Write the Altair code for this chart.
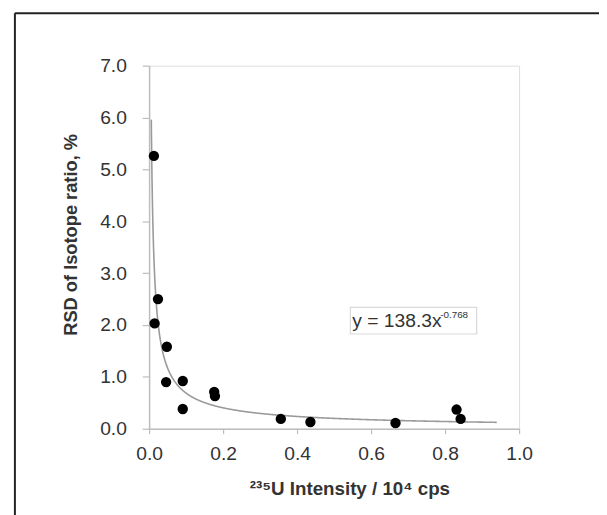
import altair as alt
import pandas as pd

# measured points: 235U intensity (10^4 cps) and RSD of isotope ratio (%)
intensity = [0.013, 0.024, 0.015, 0.048, 0.046, 0.091, 0.091, 0.176, 0.178,
             0.356, 0.436, 0.666, 0.831, 0.842]
rsd = [5.26, 2.50, 2.03, 1.58, 0.90, 0.92, 0.38, 0.71, 0.63,
       0.19, 0.13, 0.11, 0.37, 0.19]

# power-law fit printed on the chart: y = 138.3 x^-0.768 (x in cps)
fit_coef = 138.3
fit_exp = -0.768
fit_start, fit_end = 0.006, 0.94

x_ticks = [0.0, 0.1, 0.2, 0.3, 0.4, 0.5, 0.6, 0.7, 0.8, 0.9, 1.0]
y_ticks = [0, 1, 2, 3, 4, 5, 6, 7]

FONT = "Liberation Sans"
GREY = "#bdbdbd"
TXT = "#333333"

df = pd.DataFrame({"x": intensity, "y": rsd})

xscale = alt.Scale(domain=[0, 1], nice=False, zero=False)
yscale = alt.Scale(domain=[0, 7], nice=False)

xaxis = alt.Axis(
    values=x_ticks,
    labelExpr="round(datum.value*10) % 2 == 0 ? format(datum.value, '.1f') : ''",
    labelFlush=False, labelOverlap=False,
    grid=False, domainColor=GREY, domainWidth=1.5, tickColor=GREY, tickSize=5,
    tickWidth=1.2, labelFont=FONT, labelFontSize=19.5, labelColor=TXT,
    labelPadding=11, title="²³⁵U Intensity / 10⁴ cps", titleFont=FONT,
    titleFontSize=19, titleFontWeight="bold", titleColor=TXT,
    titleX=203, titleY=61, titleBaseline="middle", titleAlign="center",
)
yaxis = alt.Axis(
    values=y_ticks, format=".1f", grid=False, domainColor=GREY, domainWidth=1.5,
    labelFlush=False, labelOverlap=False,
    tickColor=GREY, tickSize=7, tickWidth=1.2, labelFont=FONT, labelFontSize=19.5,
    labelColor=TXT, labelPadding=16, title="RSD of Isotope ratio, %",
    titleFont=FONT, titleFontSize=18.5, titleFontWeight="bold", titleColor=TXT,
    titleX=-80, titleY=171, titleAngle=270, titleBaseline="middle",
    titleAlign="center",
)

curve = alt.Chart(alt.sequence(fit_start, fit_end, 0.0005, as_="x")).transform_calculate(
    y=f"{fit_coef}*pow(datum.x*10000, {fit_exp})"
).mark_line(color="#9a9a9a", strokeWidth=1.6).encode(
    x=alt.X("x:Q", scale=xscale, axis=xaxis),
    y=alt.Y("y:Q", scale=yscale, axis=yaxis),
)

points = alt.Chart(df).mark_circle(color="black", opacity=1, size=110).encode(
    x=alt.X("x:Q", scale=xscale),
    y=alt.Y("y:Q", scale=yscale),
)

one = pd.DataFrame({"a": [0]})

box = alt.Chart(one).mark_rect(fill="white", stroke="#d9d9d9", strokeWidth=1.2).encode(
    x=alt.value(204), x2=alt.value(332), y=alt.value(245), y2=alt.value(272)
)
eq_main = alt.Chart(one).mark_text(
    text="y = 138.3x", font=FONT, fontSize=19.5, color=TXT, align="left",
    baseline="alphabetic",
).encode(x=alt.value(206), y=alt.value(265))
eq_sup = alt.Chart(one).mark_text(
    text="-0.768", font=FONT, fontSize=10, color=TXT, align="left",
    baseline="alphabetic",
).encode(x=alt.value(295), y=alt.value(256))

border_top = alt.Chart(one).mark_rule(color="#222222", strokeWidth=2).encode(
    x=alt.value(-136), x2=alt.value(460), y=alt.value(-53)
)
border_left = alt.Chart(one).mark_rule(color="#222222", strokeWidth=2).encode(
    x=alt.value(-136), y=alt.value(-53), y2=alt.value(460)
)

chart = alt.layer(
    border_top, border_left, curve, points, box, eq_main, eq_sup
).properties(
    width=375, height=368,
    autosize=alt.AutoSizeParams(type="none"),
    padding={"left": 143, "top": 55, "right": 81, "bottom": 84},
).configure_view(stroke=GREY, strokeWidth=1.5).configure(background="white")

chart.save("out.html", embed_options={"renderer": "svg", "actions": False})
